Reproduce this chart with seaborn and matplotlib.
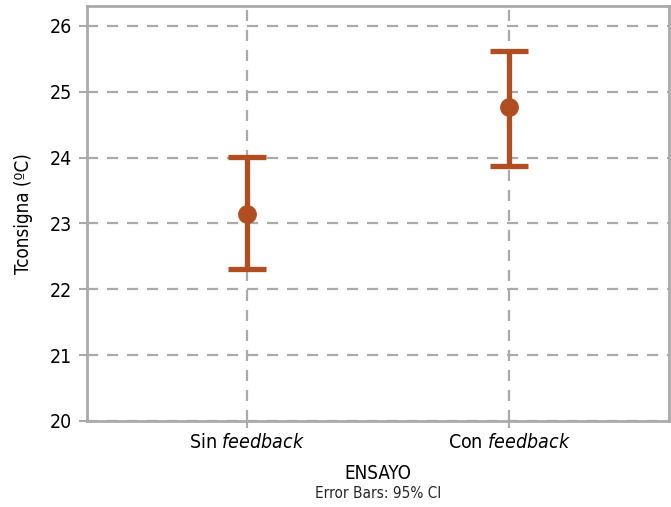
import numpy as np
import matplotlib.pyplot as plt
import pandas as pd
import seaborn as sns

ensayo = ["Sin $\\it{feedback}$", "Con $\\it{feedback}$"]
media = [23.15, 24.77]
ci_low = [22.30, 23.87]
ci_high = [24.01, 25.62]

COLOR = "#B14E21"
GRAY = "#aaaaaa"

sns.set_style("white")
plt.rcParams["font.family"] = ["DejaVu Sans"]
plt.rcParams["font.stretch"] = "condensed"
plt.rcParams["mathtext.fontset"] = "custom"
plt.rcParams["mathtext.rm"] = "DejaVu Sans:stretch=condensed"
plt.rcParams["mathtext.it"] = "DejaVu Sans:italic:stretch=condensed"

df = pd.DataFrame({"ENSAYO": ensayo, "Tconsigna": media, "lo": ci_low, "hi": ci_high})

fig = plt.figure(figsize=(6.71, 5.07), dpi=100)
ax = fig.add_axes([87 / 671, 86 / 507, 582 / 671, 415 / 507])

sns.pointplot(data=df, x="ENSAYO", y="Tconsigna", linestyle="none", color=COLOR,
              errorbar=None, markers="o", markersize=11.5, ax=ax, zorder=4)
xs = np.arange(len(df))
ax.errorbar(xs, df["Tconsigna"], yerr=[df["Tconsigna"] - df["lo"], df["hi"] - df["Tconsigna"]],
            fmt="none", ecolor=COLOR, elinewidth=3.8, capsize=13.5, capthick=3.8, zorder=3)

ax.set_ylim(20, 26.3)
ax.set_xlim(-0.61, 1.61)
ax.set_yticks(range(20, 27))
ax.grid(True, linestyle=(0, (5, 4)), color=GRAY, linewidth=1.6)
ax.set_axisbelow(True)
for s in ax.spines.values():
    s.set_color(GRAY)
    s.set_linewidth(2)
ax.tick_params(axis="both", colors=GRAY, labelcolor="black", labelsize=14, width=1.5)
ax.tick_params(axis="y", length=6, direction="out", left=True, pad=5)
ax.tick_params(axis="x", length=5, direction="out", bottom=True)
ax.set_ylabel("Tconsigna (ºC)", fontsize=13.5, color="black", labelpad=12)
ax.set_xlabel("ENSAYO", fontsize=13.5, labelpad=9, color="black")
fig.text(0.5 * (87 + 669) / 671, 0.018, "Error Bars: 95% CI", ha="center", fontsize=11)

fig.savefig("out.png", dpi=100)
